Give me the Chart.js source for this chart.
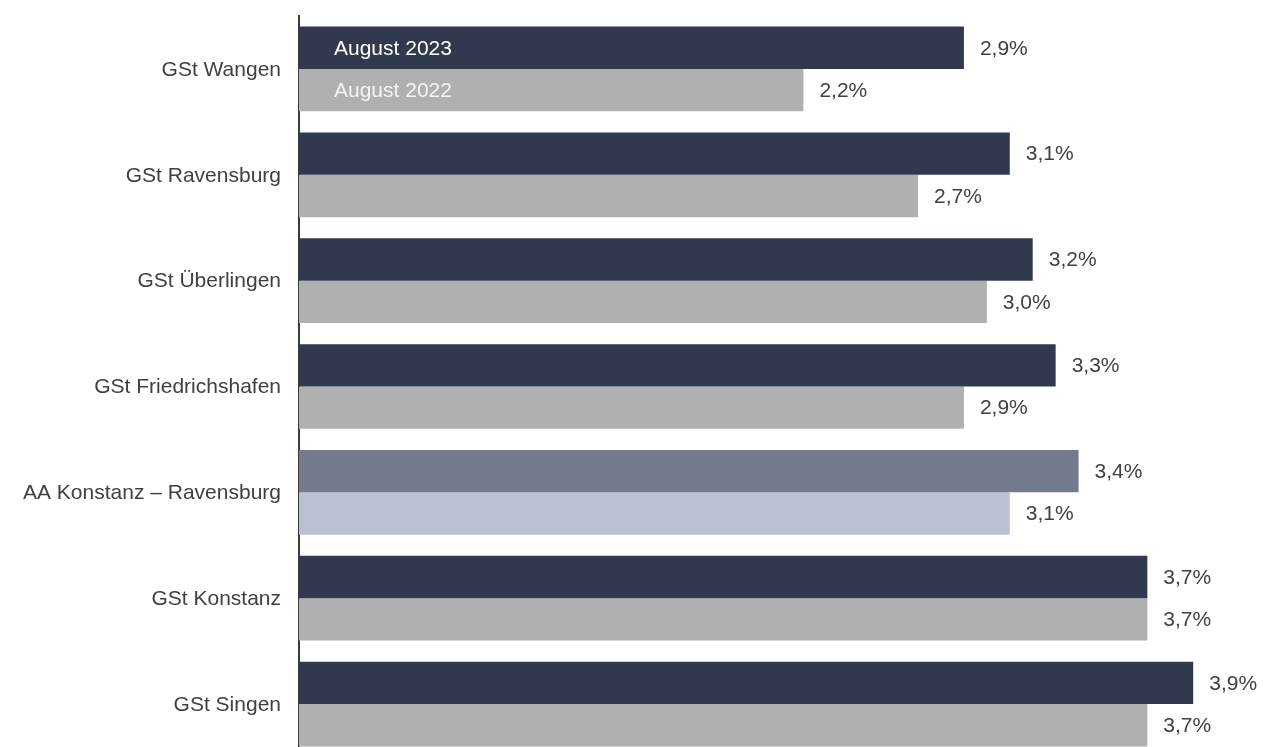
<!DOCTYPE html>
<html lang="de">
<head>
<meta charset="utf-8">
<title>Arbeitslosenquote August</title>
<script src="https://cdn.jsdelivr.net/npm/chart.js@4/dist/chart.umd.min.js"></script>
<style>
  html, body { margin: 0; padding: 0; background: #fff; overflow: hidden; }
  #wrap { position: relative; width: 1268px; height: 757px; }
</style>
</head>
<body>
<div id="wrap"><canvas id="chart"></canvas></div>
<script>
  const categories = [
    "GSt Wangen",
    "GSt Ravensburg",
    "GSt Überlingen",
    "GSt Friedrichshafen",
    "AA Konstanz – Ravensburg",
    "GSt Konstanz",
    "GSt Singen",
  ];
  const seriesLabels = ["August 2023", "August 2022"];
  const aug2023 = [2.9, 3.1, 3.2, 3.3, 3.4, 3.7, 3.9];
  const aug2022 = [2.2, 2.7, 3.0, 2.9, 3.1, 3.7, 3.7];
  const highlight = "AA Konstanz – Ravensburg";

  const COLORS = {
    dark: "#31394f",
    gray: "#b0b0b0",
    darkHi: "#737b8d",
    grayHi: "#bbc0d2",
    text: "#404040",
  };
  const FONT = "Arial, 'Liberation Sans', sans-serif";

  const fmt = (v) => v.toFixed(1).replace(".", ",") + "%";

  // category names, value labels and the series names inside the first bars
  const barLabels = {
    id: "barLabels",
    afterDatasetsDraw(chart) {
      const ctx = chart.ctx;
      const yScale = chart.scales.y;
      ctx.save();
      ctx.font = "21px " + FONT;
      ctx.textBaseline = "middle";

      ctx.fillStyle = COLORS.text;
      ctx.textAlign = "right";
      chart.data.labels.forEach((lbl, i) => {
        ctx.fillText(lbl, yScale.right - 18, yScale.getPixelForValue(i) + 1);
      });

      ctx.textAlign = "left";
      chart.data.datasets.forEach((ds, di) => {
        const meta = chart.getDatasetMeta(di);
        ctx.fillStyle = COLORS.text;
        meta.data.forEach((bar, i) => {
          ctx.fillText(fmt(ds.data[i]), bar.x + 16, bar.y + 1);
        });
        const first = meta.data[0];
        ctx.fillStyle = di === 0 ? "#ffffff" : "#f4f4f4";
        ctx.fillText(ds.label, chart.chartArea.left + 35, first.y + 1);
      });
      ctx.restore();
    },
  };

  new Chart(document.getElementById("chart"), {
    type: "bar",
    data: {
      labels: categories,
      datasets: [
        {
          label: seriesLabels[0],
          data: aug2023,
          backgroundColor: categories.map((c) =>
            c === highlight ? COLORS.darkHi : COLORS.dark,
          ),
          categoryPercentage: 0.8,
          barPercentage: 1,
        },
        {
          label: seriesLabels[1],
          data: aug2022,
          backgroundColor: categories.map((c) =>
            c === highlight ? COLORS.grayHi : COLORS.gray,
          ),
          categoryPercentage: 0.8,
          barPercentage: 1,
        },
      ],
    },
    options: {
      indexAxis: "y",
      responsive: true,
      maintainAspectRatio: false,
      animation: false,
      layout: { padding: { top: 16, right: 6, bottom: 0, left: 0 } },
      plugins: {
        legend: { display: false },
        tooltip: { enabled: false },
      },
      scales: {
        x: {
          display: false,
          min: 0,
          max: 4.2,
        },
        y: {
          afterFit: (s) => {
            s.width = 299;
          },
          grid: { display: false, drawTicks: false },
          border: { display: true, color: "#3a3a3a", width: 2 },
          ticks: { display: false },
        },
      },
    },
    plugins: [barLabels],
  });
</script>
</body>
</html>
